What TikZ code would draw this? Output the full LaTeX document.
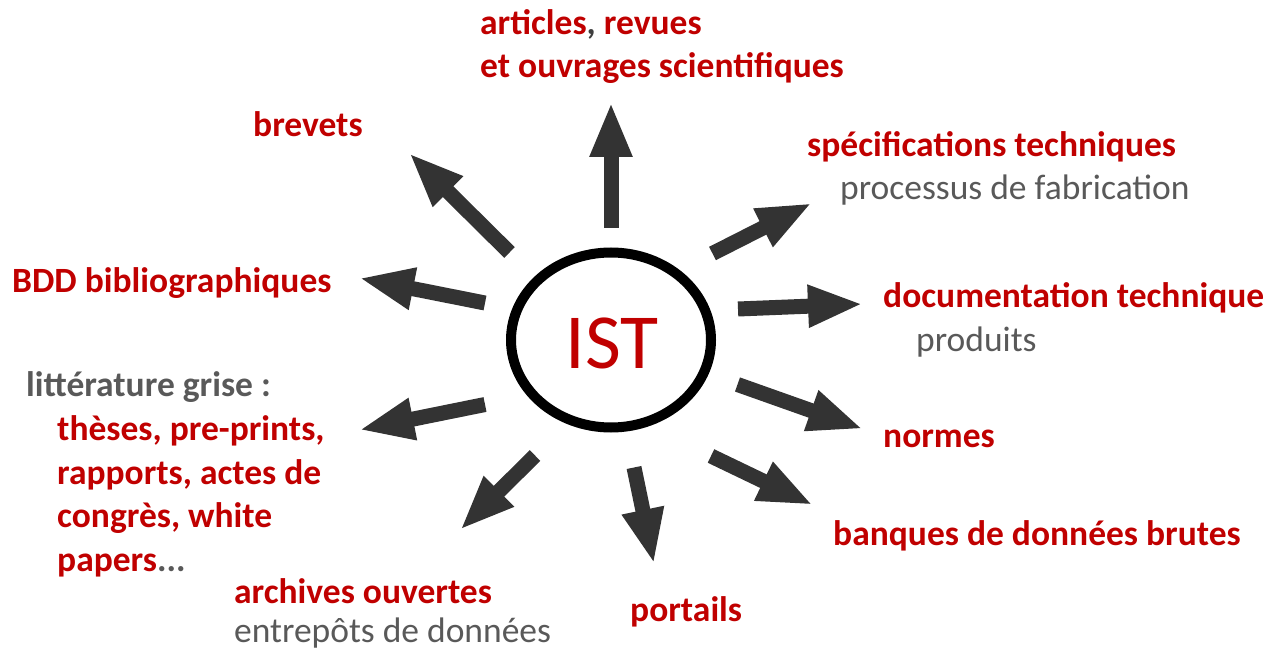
\documentclass[tikz,border=0pt]{standalone}
\usepackage{fontspec}
\setmainfont{Carlito}
\usetikzlibrary{arrows.meta,shapes.geometric}
\definecolor{ired}{HTML}{C00000}
\definecolor{igrey}{HTML}{595959}
\definecolor{iarrow}{HTML}{333333}
\begin{document}
\begin{tikzpicture}[x=1pt,y=-1pt,
  lbl/.style={anchor=base west,inner sep=0pt,font=\fontsize{35.5}{44}\selectfont\bfseries,text=ired},
  sub/.style={anchor=base west,inner sep=0pt,font=\fontsize{35.5}{44}\selectfont,text=igrey},
  grey/.style={anchor=base west,inner sep=0pt,font=\fontsize{35.5}{44}\selectfont\bfseries,text=igrey},
  blockarrow/.style={draw=iarrow,line width=15pt,-{Triangle[width=39pt,length=55pt]},iarrow}]
\useasboundingbox (0,0) rectangle (1280,652);
% centre
\node[draw=black,line width=10pt,ellipse,minimum width=200pt,minimum height=175pt,inner sep=0pt] (ist) at (611,340) {};
\node[anchor=center,inner sep=0pt,font=\fontsize{78}{80}\selectfont,text=ired] (istt) at (612,343) {IST};
% labels
\node[lbl] (art1) at (480,35) {articles\textcolor{igrey!70!black}{,} revues};
\node[lbl] (art2) at (480,78) {et ouvrages scientifiques};
\node[lbl] (brev) at (253,137) {brevets};
\node[lbl] (spec) at (807,157) {spécifications techniques};
\node[sub] (proc) at (840,200) {processus de fabrication};
\node[lbl] (doc) at (883,308) {documentation technique};
\node[sub] (prod) at (916,352) {produits};
\node[lbl] (norm) at (883,447) {normes};
\node[lbl] (banq) at (833,545) {banques de données brutes};
\node[lbl] (port) at (630,621) {portails};
\node[lbl] (arch) at (234,603) {archives ouvertes};
\node[sub] (entr) at (234,642) {entrepôts de données};
\node[lbl] (bdd) at (12,293) {BDD bibliographiques};
\node[grey] (litt) at (26,396) {littérature grise :};
\node[lbl] (l1) at (57,440) {thèses, pre-prints,};
\node[lbl] (l2) at (57,484) {rapports, actes de};
\node[lbl] (l3) at (57,527) {congrès, white};
\node[lbl] (l4) at (57,571) {papers\textcolor{igrey}{...}};
% arrow ends
\coordinate (t1) at (611,228);   \coordinate (h1) at (611,102);
\coordinate (t2) at (509.5,252.5); \coordinate (h2) at (409,153);
\coordinate (t3) at (485,303);   \coordinate (h3) at (359,278);
\coordinate (t4) at (485,404.5); \coordinate (h4) at (359,430);
\coordinate (t5) at (535,455.5); \coordinate (h5) at (460,530);
\coordinate (t6) at (634,467.5); \coordinate (h6) at (654,564);
\coordinate (t7) at (712.5,253.5); \coordinate (h7) at (812,203);
\coordinate (t8) at (738,309);   \coordinate (h8) at (863,304);
\coordinate (t9) at (737.5,384.5); \coordinate (h9) at (863,429);
\coordinate (t10) at (711,456);  \coordinate (h10) at (813,505);
\foreach \i in {1,...,10} {\draw[blockarrow] (t\i) -- (h\i);}
\end{tikzpicture}
\end{document}
